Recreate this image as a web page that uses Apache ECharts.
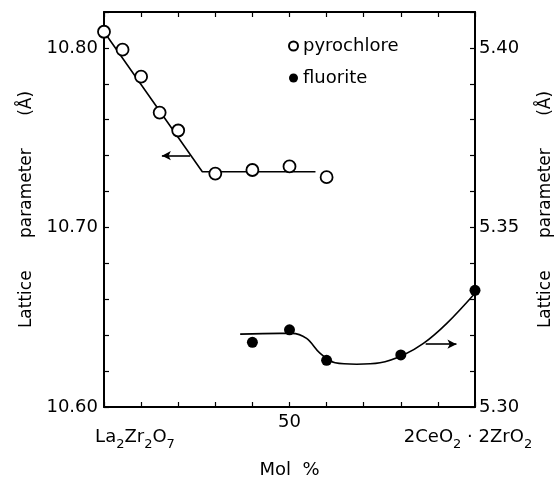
<!DOCTYPE html>
<html><head><meta charset="utf-8">
<script src="https://cdn.jsdelivr.net/npm/echarts@6/dist/echarts.min.js"></script>
<style>html,body{margin:0;padding:0;background:#fff}#c{width:559px;height:484px}</style>
</head><body><div id="c"></div>
<script>
// x positions (Mol %) and values
const pyroX = [0, 5, 10, 15, 20, 30, 40, 50, 60];
const pyroY = [10.809, 10.799, 10.784, 10.764, 10.754, 10.730, 10.732, 10.734, 10.728];
const fluoX = [40, 50, 60, 80, 100];
const fluoY = [5.318, 5.3215, 5.313, 5.3145, 5.3325];
// hand-drawn guide curves
const pyroFitX = [0, 26.5, 57];
const pyroFitY = [10.809, 10.731, 10.731];
const fluoFitX = [36.7, 47.4, 50.6, 54.6, 58.2, 62.3, 68.1, 74.4, 80.7, 86.1, 92.4, 100];
const fluoFitY = [5.3203, 5.3205, 5.3205, 5.3191, 5.3150, 5.3123, 5.3119, 5.3123, 5.3145, 5.3177, 5.3233, 5.3317];
// axis-pointing arrows [from, to] (arrowhead at 'to')
const pyroArrowX = [23.2, 15.6];
const pyroArrowY = [10.74, 10.74];
const fluoArrowX = [86.7, 95.0];
const fluoArrowY = [5.3175, 5.3175];
// tick labels
const leftTickLabels = ['10.60', '10.70', '10.80'];
const rightTickLabels = ['5.30', '5.35', '5.40'];
const xLabelValues = [0, 50, 100];
// rich-text forms of the x tick labels (La2Zr2O7, 50, 2CeO2·2ZrO2 with subscripts)
const xLabelTexts = [
  '{g| }{m|La}{s|2}{m|Zr}{s|2}{m|O}{s|7}',
  '{c|50}',
  '{m|2CeO}{s|2}{m| · 2ZrO}{s|2}{h| }'
];
const seriesNames = ['pyrochlore', 'fluorite'];
const axisTitle = 'Lattice      parameter      (Å)';
const xTitle = 'Mol  %';

const FONT = 'DejaVu Sans';
const INK = '#000';
const zip = (xs, ys) => xs.map((x, i) => [x, ys[i]]);

const chart = echarts.init(document.getElementById('c'), null, {renderer: 'canvas'});
const lineAxis = {show: true, onZero: false, lineStyle: {color: INK, width: 2}};
const tick = {show: true, inside: true, length: 5, lineStyle: {color: INK, width: 1.2}};
chart.setOption({
  backgroundColor: '#fff',
  animation: false,
  textStyle: {fontFamily: FONT, color: INK},
  grid: {left: 104, right: 84, top: 12, bottom: 77, containLabel: false, outerBoundsMode: 'none'},
  legend: {
    data: seriesNames, orient: 'vertical', left: 283, top: 32,
    itemWidth: 9, itemHeight: 9, itemGap: 14, itemTextGap: 6,
    textStyle: {fontFamily: FONT, fontSize: 18, color: INK}
  },
  xAxis: [{
    type: 'value', min: 0, max: 100, interval: 10, position: 'bottom',
    axisLine: lineAxis, axisTick: tick, splitLine: {show: false},
    name: xTitle, nameLocation: 'middle', nameGap: 54,
    nameTextStyle: {fontFamily: FONT, fontSize: 18, color: INK},
    axisLabel: {
      margin: 6, fontFamily: FONT, fontSize: 18, color: INK,
      showMinLabel: true, showMaxLabel: true,
      formatter: v => {
        const i = xLabelValues.indexOf(Math.round(v));
        return i < 0 ? '' : xLabelTexts[i];
      },
      rich: {
        g: {width: 62, fontSize: 18},
        h: {width: 14, fontSize: 18},
        c: {fontFamily: FONT, fontSize: 18, color: INK},
        m: {fontFamily: FONT, fontSize: 18, color: INK, padding: [15, 0, 5, 0], verticalAlign: 'bottom'},
        s: {fontFamily: FONT, fontSize: 13, color: INK, verticalAlign: 'bottom'}
      }
    }
  }, {
    type: 'value', min: 0, max: 100, interval: 10, position: 'top',
    axisLine: lineAxis, axisTick: tick,
    axisLabel: {show: false}, splitLine: {show: false}
  }],
  yAxis: [{
    type: 'value', min: 10.60, max: 10.82, interval: 0.02, position: 'left',
    axisLine: lineAxis, axisTick: tick, splitLine: {show: false},
    axisLabel: {
      margin: 6, fontFamily: FONT, fontSize: 18, color: INK,
      formatter: v => leftTickLabels.includes(v.toFixed(2)) ? v.toFixed(2) : ''
    },
    name: axisTitle, nameLocation: 'middle', nameRotate: 90, nameGap: 68,
    nameTextStyle: {fontFamily: FONT, fontSize: 17, color: INK}
  }, {
    type: 'value', min: 5.30, max: 5.41, interval: 0.01, position: 'right',
    axisLine: lineAxis, axisTick: tick, splitLine: {show: false},
    axisLabel: {
      margin: 4, fontFamily: FONT, fontSize: 18, color: INK,
      formatter: v => rightTickLabels.includes(v.toFixed(2)) ? v.toFixed(2) : ''
    },
    name: axisTitle, nameLocation: 'middle', nameRotate: 90, nameGap: 62,
    nameTextStyle: {fontFamily: FONT, fontSize: 17, color: INK}
  }],
  series: [{
    name: 'pyrochlore fit', type: 'line', xAxisIndex: 0, yAxisIndex: 0,
    data: zip(pyroFitX, pyroFitY), symbol: 'none', z: 2,
    lineStyle: {color: INK, width: 1.6},
    markLine: {
      silent: true, symbol: ['none', 'arrow'], symbolSize: [7, 9],
      label: {show: false}, lineStyle: {color: INK, width: 1.6, type: 'solid'},
      data: [[{coord: [pyroArrowX[0], pyroArrowY[0]]}, {coord: [pyroArrowX[1], pyroArrowY[1]]}]]
    }
  }, {
    name: 'fluorite fit', type: 'line', xAxisIndex: 0, yAxisIndex: 1,
    data: zip(fluoFitX, fluoFitY), symbol: 'none', smooth: 0.35, z: 2,
    lineStyle: {color: INK, width: 1.6},
    markLine: {
      silent: true, symbol: ['none', 'arrow'], symbolSize: [7, 9],
      label: {show: false}, lineStyle: {color: INK, width: 1.6, type: 'solid'},
      data: [[{coord: [fluoArrowX[0], fluoArrowY[0]]}, {coord: [fluoArrowX[1], fluoArrowY[1]]}]]
    }
  }, {
    name: seriesNames[0], type: 'scatter', xAxisIndex: 0, yAxisIndex: 0,
    data: zip(pyroX, pyroY), symbol: 'circle', symbolSize: 12, z: 4,
    itemStyle: {color: '#fff', borderColor: INK, borderWidth: 1.8, opacity: 1}
  }, {
    name: seriesNames[1], type: 'scatter', xAxisIndex: 0, yAxisIndex: 1,
    data: zip(fluoX, fluoY), symbol: 'circle', symbolSize: 11, z: 4,
    itemStyle: {color: INK, opacity: 1}
  }]
});
</script></body></html>
